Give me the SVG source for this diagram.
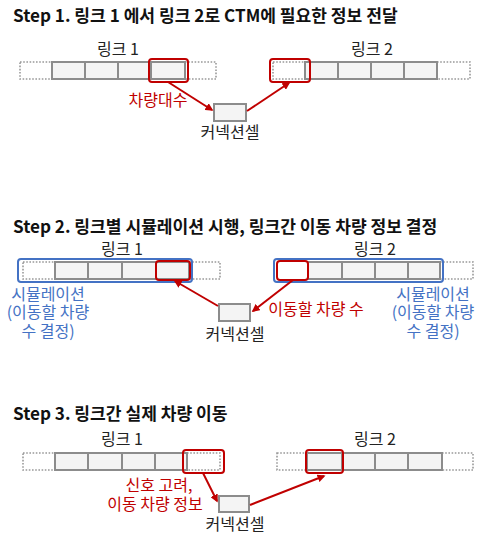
<svg xmlns="http://www.w3.org/2000/svg" width="488" height="544" viewBox="0 0 488 544">
<defs>
<style>
text{font-family:"Noto Sans CJK KR","Noto Sans",sans-serif;}
.title{font-size:17.1px;font-weight:bold;fill:#111;}
.lbl{font-size:16px;fill:#222;text-anchor:middle;}
.red{font-size:16px;fill:#c00000;text-anchor:middle;}
.blue{font-size:16px;fill:#4472c4;text-anchor:middle;}
.cell{fill:#f4f4f4;stroke:#8c8c8c;stroke-width:2;}
.dot{fill:#fff;stroke:#999;stroke-width:1.6;stroke-dasharray:1.6 1.6;}
.rbox{fill:none;stroke:#c00000;stroke-width:2;}
.bbox{fill:none;stroke:#4472c4;stroke-width:2;}
.arr{stroke:#c00000;stroke-width:2;fill:none;marker-end:url(#ah);}
</style>
<marker id="ah" viewBox="0 0 10 10" refX="8" refY="5" markerWidth="4" markerHeight="4" orient="auto">
<path d="M0,0 L10,5 L0,10 z" fill="#c00000"/>
</marker>
</defs>
<rect width="488" height="544" fill="#fff"/>

<g id="step1">
<text class="title" x="13" y="22">Step 1. 링크 1 에서 링크 2로 CTM에 필요한 정보 전달</text>
<g id="s1-link1">
<text class="lbl" x="118" y="55">링크 1</text>
<rect class="dot" x="20" y="62" width="32" height="17"/>
<rect class="dot" x="185" y="62" width="31" height="17"/>
<rect class="cell" x="52" y="62" width="33" height="17"/>
<rect class="cell" x="85" y="62" width="33" height="17"/>
<rect class="cell" x="118" y="62" width="33" height="17"/>
<rect class="cell" x="151" y="62" width="34" height="17"/>
<rect class="rbox" x="149" y="59" width="39" height="23" rx="3"/>
</g>
<g id="s1-link2">
<text class="lbl" x="372" y="55">링크 2</text>
<rect class="dot" x="273" y="62" width="32" height="17"/>
<rect class="dot" x="437" y="62" width="33" height="17"/>
<rect class="cell" x="305" y="62" width="33" height="17"/>
<rect class="cell" x="338" y="62" width="33" height="17"/>
<rect class="cell" x="371" y="62" width="33" height="17"/>
<rect class="cell" x="404" y="62" width="33" height="17"/>
<rect class="rbox" x="270" y="59" width="40" height="23" rx="3"/>
</g>
<g id="s1-conn">
<rect class="cell" x="214" y="104" width="32" height="17"/>
<text class="lbl" x="230" y="138">커넥션셀</text>
</g>
<g id="s1-connectors">
<line class="arr" x1="168" y1="82" x2="212" y2="110"/>
<line class="arr" x1="247" y1="111" x2="289" y2="83"/>
<text class="red" x="158" y="106">차량대수</text>
</g>
</g>

<g id="step2">
<text class="title" x="13" y="233">Step 2. 링크별 시뮬레이션 시행, 링크간 이동 차량 정보 결정</text>
<g id="s2-link1">
<text class="lbl" x="122" y="255">링크 1</text>
<rect class="dot" x="23" y="262" width="32" height="17"/>
<rect class="dot" x="189" y="262" width="31" height="17"/>
<rect class="cell" x="55" y="262" width="33" height="17"/>
<rect class="cell" x="88" y="262" width="34" height="17"/>
<rect class="cell" x="122" y="262" width="34" height="17"/>
<rect class="cell" x="156" y="262" width="33" height="17"/>
<rect class="bbox" x="18" y="259" width="174" height="23" rx="3"/>
<rect class="rbox" x="156" y="261" width="34" height="19" rx="3"/>
<text class="blue" x="48" y="300">시뮬레이션</text>
<text class="blue" x="48" y="318">(이동할 차량</text>
<text class="blue" x="48" y="337">수 결정)</text>
</g>
<g id="s2-link2">
<text class="lbl" x="375" y="255">링크 2</text>
<rect class="dot" x="440" y="262" width="33" height="17"/>
<rect x="277" y="262" width="31" height="17" fill="#fff"/>
<rect class="cell" x="308" y="262" width="34" height="17"/>
<rect class="cell" x="342" y="262" width="33" height="17"/>
<rect class="cell" x="375" y="262" width="33" height="17"/>
<rect class="cell" x="408" y="262" width="32" height="17"/>
<rect class="bbox" x="274" y="259" width="169" height="23" rx="3"/>
<rect class="rbox" x="277" y="261" width="31" height="19" rx="3"/>
<text class="blue" x="433" y="300">시뮬레이션</text>
<text class="blue" x="433" y="318">(이동할 차량</text>
<text class="blue" x="433" y="337">수 결정)</text>
</g>
<g id="s2-conn">
<rect class="cell" x="219" y="304" width="31" height="17"/>
<text class="lbl" x="235" y="340">커넥션셀</text>
</g>
<g id="s2-connectors">
<line class="arr" x1="218" y1="306" x2="175" y2="281"/>
<line class="arr" x1="293" y1="280" x2="253" y2="311"/>
<text class="red" x="316" y="315">이동할 차량 수</text>
</g>
</g>

<g id="step3">
<text class="title" x="13" y="420">Step 3. 링크간 실제 차량 이동</text>
<g id="s3-link1">
<text class="lbl" x="122" y="445">링크 1</text>
<rect class="dot" x="23" y="453" width="32" height="17"/>
<rect class="dot" x="187" y="453" width="33" height="17"/>
<rect class="cell" x="55" y="453" width="33" height="17"/>
<rect class="cell" x="88" y="453" width="34" height="17"/>
<rect class="cell" x="122" y="453" width="33" height="17"/>
<rect class="cell" x="155" y="453" width="32" height="17"/>
<rect class="rbox" x="183" y="450" width="41" height="23" rx="3"/>
</g>
<g id="s3-link2">
<text class="lbl" x="375" y="445">링크 2</text>
<rect class="dot" x="277" y="453" width="30" height="17"/>
<rect class="dot" x="442" y="453" width="31" height="17"/>
<rect class="cell" x="307" y="453" width="35" height="17"/>
<rect class="cell" x="342" y="453" width="33" height="17"/>
<rect class="cell" x="375" y="453" width="33" height="17"/>
<rect class="cell" x="408" y="453" width="34" height="17"/>
<rect class="rbox" x="306" y="450" width="37" height="23" rx="3"/>
</g>
<g id="s3-conn">
<rect class="cell" x="219" y="496" width="30" height="16"/>
<text class="lbl" x="235" y="530">커넥션셀</text>
</g>
<g id="s3-connectors">
<line class="arr" x1="203" y1="473" x2="217" y2="501"/>
<line class="arr" x1="250" y1="505" x2="324" y2="476"/>
<text class="red" x="159" y="491">신호 고려,</text>
<text class="red" x="155" y="510">이동 차량 정보</text>
</g>
</g>
</svg>
